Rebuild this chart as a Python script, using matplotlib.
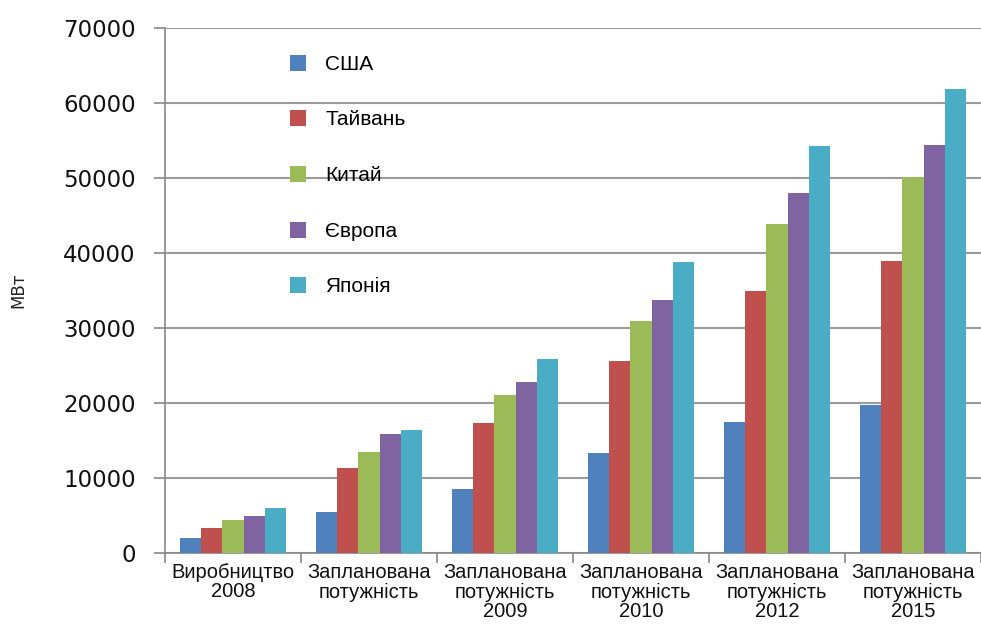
import numpy as np
import matplotlib
matplotlib.use("Agg")
import matplotlib.pyplot as plt
from matplotlib.patches import Patch

categories = ["Виробництво\n2008", "Запланована\nпотужність",
              "Запланована\nпотужність\n2009", "Запланована\nпотужність\n2010",
              "Запланована\nпотужність\n2012", "Запланована\nпотужність\n2015"]
series_names = ["США", "Тайвань", "Китай", "Європа", "Японія"]
usa = [2000, 5500, 8500, 13400, 17500, 19700]
taiwan = [3300, 11300, 17300, 25600, 34900, 38900]
china = [4400, 13500, 21100, 30900, 43900, 50100]
europe = [5000, 15900, 22800, 33700, 48000, 54400]
japan = [6000, 16400, 25900, 38800, 54300, 61900]
yticks = [0, 10000, 20000, 30000, 40000, 50000, 60000, 70000]

colors = ["#4F81BD", "#C0504D", "#9BBB59", "#8064A2", "#4BACC6"]
series = [usa, taiwan, china, europe, japan]

fig = plt.figure(figsize=(9.81, 6.26), dpi=100)
ax = fig.add_axes([165/981, 1-553/626, 1-165/981, (553-28)/626])

x = np.arange(len(categories))
w = 0.155
for i, (vals, c) in enumerate(zip(series, colors)):
    ax.bar(x + (i - 2) * w, vals, width=w, color=c, zorder=3)

ax.set_xlim(-0.5, len(categories) - 0.5)
ax.set_ylim(0, 70000)
ax.set_yticks(yticks)
ax.set_yticklabels([str(t) for t in yticks], fontsize=16.5, family="DejaVu Sans", color="#111111")
ax.yaxis.grid(True, color="#9a9a9a", linewidth=1.5, zorder=0)
ax.set_axisbelow(True)

ax.set_xticks(x)
ax.set_xticklabels(categories, fontsize=14.5, family="Liberation Sans", color="#111111", linespacing=1.05)
ax.tick_params(axis="x", length=0, pad=7)
ax.set_xticks(np.arange(-0.5, len(categories) + 0.5, 1), minor=True)
ax.tick_params(axis="x", which="minor", length=7, color="#888888", width=1.2)
ax.tick_params(axis="y", length=8, color="#888888", width=1.2, pad=13)

for s in ["top", "right"]:
    ax.spines[s].set_visible(False)
for s in ["left", "bottom"]:
    ax.spines[s].set_color("#888888")
    ax.spines[s].set_linewidth(1.2)

fig.text(18/981, 1-290/626, "МВт", rotation=90, fontsize=12, family="DejaVu Sans",
         ha="center", va="center", color="#222222")

handles = [Patch(facecolor=c, edgecolor="none") for c in colors]
leg = ax.legend(handles, series_names, loc="upper left", bbox_to_anchor=(0.13, 0.985),
                frameon=False, labelspacing=1.75, handlelength=0.8,
                handleheight=0.8, handletextpad=0.9,
                prop={"family": "Liberation Sans", "size": 15})

fig.savefig("out.png", dpi=100)
